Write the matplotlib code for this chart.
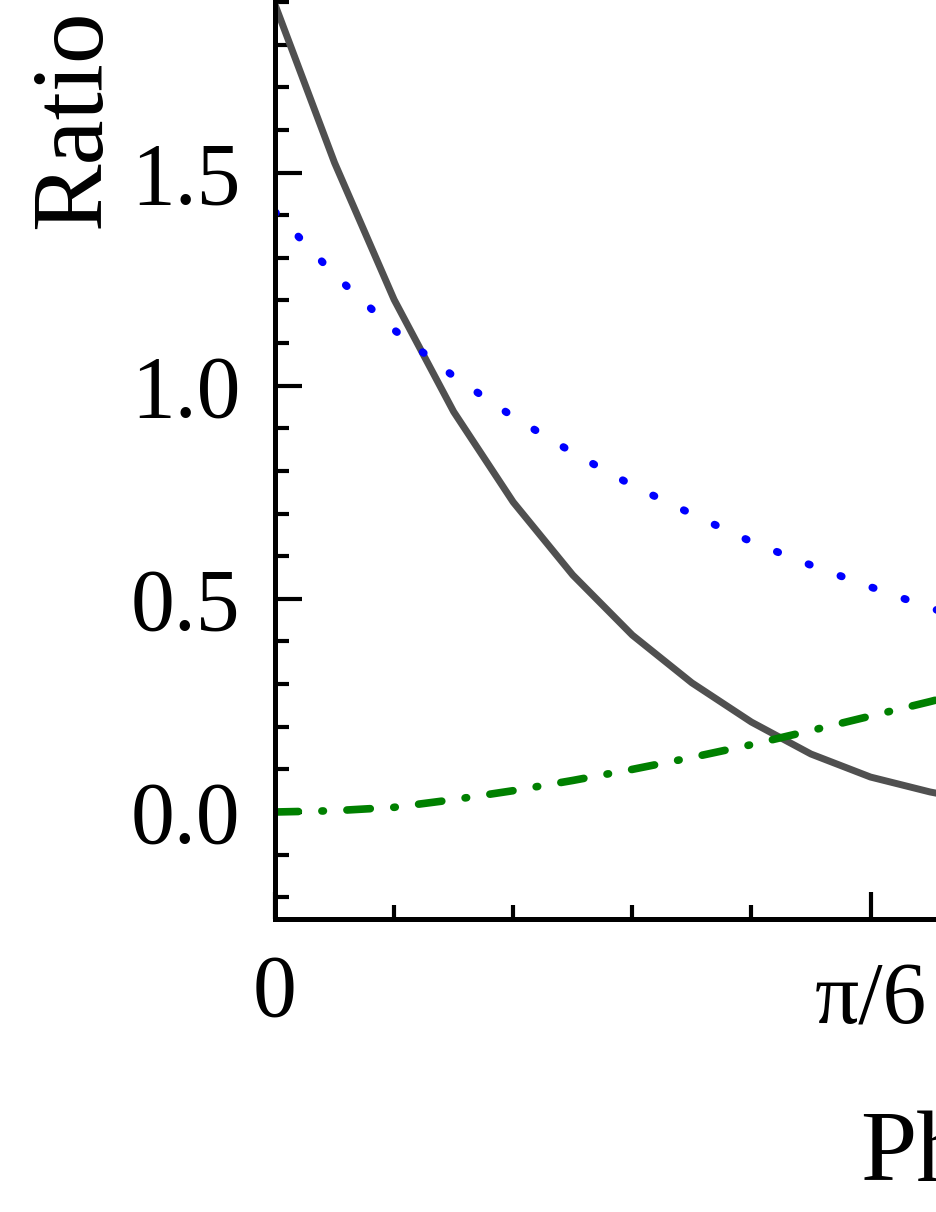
import numpy as np
import matplotlib
matplotlib.use('Agg')
import matplotlib.pyplot as plt
import matplotlib.transforms as mtransforms

plt.rcParams['font.family'] = ['Liberation Serif', 'DejaVu Serif']

# phase samples in steps of pi/60
phase = np.arange(13) * np.pi / 60

ratio_solid = [1.894, 1.523, 1.202, 0.939, 0.727, 0.556, 0.415, 0.303,
               0.211, 0.136, 0.082, 0.047, 0.020]
ratio_dotted = [1.408, 1.260, 1.131, 1.022, 0.927, 0.843, 0.766, 0.699,
                0.634, 0.579, 0.528, 0.479, 0.435]
ratio_dashdot = [0.000, 0.003, 0.011, 0.029, 0.050, 0.074, 0.100, 0.128,
                 0.158, 0.191, 0.225, 0.259, 0.295]

xtick_pos = [0, np.pi / 6]
xtick_labels = ['0', 'π/6']
ytick_pos = [0.0, 0.5, 1.0, 1.5]
ytick_labels = ['0.0', '0.5', '1.0', '1.5']

W, H = 937, 1212
fig = plt.figure(figsize=(W / 100, H / 100), dpi=100)

# axes run past the top and right edges of the figure (cropped view)
px_per_unit = 426.3
x0_px, y0_px = 275, 812
ylim = (-0.25, 2.0)
xlim = (0, np.pi / 2)
px_per_rad = 595.5 / (np.pi / 6)
bottom_px = y0_px - ylim[0] * px_per_unit
height_px = (ylim[1] - ylim[0]) * px_per_unit
width_px = (xlim[1] - xlim[0]) * px_per_rad
ax = fig.add_axes([x0_px / W, 1 - bottom_px / H, width_px / W, height_px / H])

ax.plot(phase, ratio_solid, color='#505050', lw=5, solid_joinstyle='miter')
ax.plot(phase, ratio_dotted, color='blue', lw=5.5, linestyle=(0, (0.2, 4.25)),
        dash_capstyle='round')
ax.plot(phase, ratio_dashdot, color='green', lw=5.5,
        linestyle=(0, (3.06, 3.08, 0.2, 3.08)), dash_capstyle='round')

ax.set_xlim(*xlim)
ax.set_ylim(*ylim)
ax.set_xticks(xtick_pos)
ax.set_xticklabels(xtick_labels)
ax.set_xticks(np.arange(0, 16) * np.pi / 30, minor=True)
ax.set_yticks(ytick_pos)
ax.set_yticklabels(ytick_labels)
ax.set_yticks(np.arange(-2, 21) / 10, minor=True)

for s in ax.spines.values():
    s.set_linewidth(3.6)
ax.tick_params(which='both', direction='in', width=3, labelsize=63, pad=25,
               top=False, right=False)
ax.tick_params(which='major', length=19.5)
ax.tick_params(which='minor', length=10)

# pi label sits a little lower than the plain zero
offset = mtransforms.ScaledTranslation(0, -8 / 100, fig.dpi_scale_trans)
for lab in ax.get_xticklabels():
    if 'π' in lab.get_text():
        lab.set_transform(lab.get_transform() + offset)

fig.text(100 / W, 1 - 119 / H, 'Ratio', fontsize=73, rotation=90,
         rotation_mode='anchor', ha='center', va='baseline')
fig.text(860 / W, 1 - 1181 / H, 'Phase', fontsize=73, ha='left', va='baseline')

plt.savefig('out.png', dpi=100)
